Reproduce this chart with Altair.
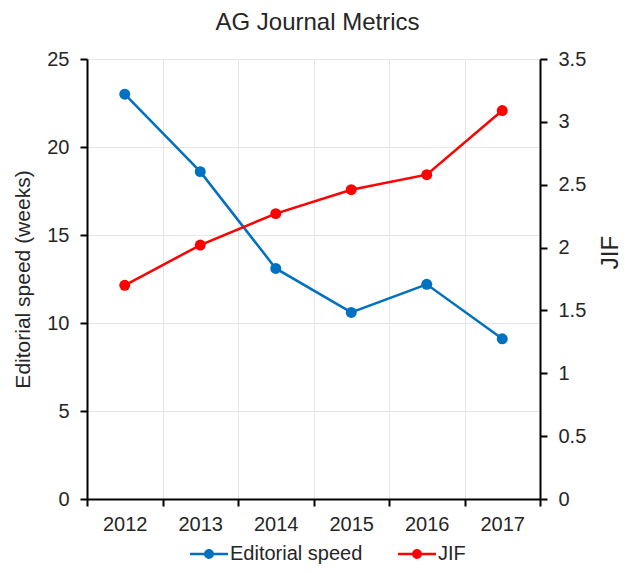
import altair as alt
import pandas as pd

years = ["2012", "2013", "2014", "2015", "2016", "2017"]
editorial_speed = [23.0, 18.6, 13.1, 10.6, 12.2, 9.1]
jif = [1.70, 2.02, 2.27, 2.46, 2.58, 3.09]
series_names = ["Editorial speed", "JIF"]
series_colors = ["#0070C0", "#FF0000"]

df = pd.DataFrame({
    "year": years * 2,
    "series": [series_names[0]] * len(years) + [series_names[1]] * len(years),
    "value": editorial_speed + jif,
})

FONT = "Liberation Sans"
TXT = "#262626"

sym_path = ("M-1,-0.07 L1,-0.07 L1,0.07 L-1,0.07 Z "
            "M-0.26,0 A0.26,0.26 0 1,1 0.26,0 A0.26,0.26 0 1,1 -0.26,0 Z")

x_enc = alt.X("year:N", sort=years,
              scale=alt.Scale(paddingInner=0, paddingOuter=0),
              axis=alt.Axis(title=None, tickBand="extent", labelAngle=0,
                            grid=True, gridColor="#e6e6e6", gridWidth=1,
                            domainColor="#000000", domainWidth=2,
                            tickColor="#000000", tickWidth=2, tickSize=7,
                            labelFontSize=20, labelFont=FONT, labelColor=TXT,
                            labelPadding=8))

color_enc = alt.Color("series:N",
                      scale=alt.Scale(domain=series_names, range=series_colors),
                      legend=alt.Legend(title=None, orient="none",
                                        direction="horizontal",
                                        legendX=103, legendY=476,
                                        symbolType=sym_path, symbolSize=1444,
                                        symbolStrokeWidth=0,
                                        labelFontSize=20, labelFont=FONT,
                                        labelColor=TXT, labelOffset=2,
                                        columnPadding=35))

base = alt.Chart(df)

y_left = alt.Y("value:Q",
               scale=alt.Scale(domain=[0, 25], nice=False),
               axis=alt.Axis(title="Editorial speed (weeks)", values=[0, 5, 10, 15, 20, 25],
                             grid=True, gridColor="#e6e6e6", gridWidth=1,
                             domainColor="#000000", domainWidth=2,
                             tickColor="#000000", tickWidth=2, tickSize=7,
                             labelFontSize=20, labelFont=FONT, labelColor=TXT,
                             labelPadding=11,
                             titleFontSize=21, titleFont=FONT, titleColor=TXT,
                             titleFontWeight="normal", titlePadding=13))

y_right = alt.Y("value:Q",
                scale=alt.Scale(domain=[0, 3.5], nice=False),
                axis=alt.Axis(title="JIF", orient="right",
                              values=[0, 0.5, 1, 1.5, 2, 2.5, 3, 3.5],
                              format="~g",
                              grid=False,
                              domainColor="#000000", domainWidth=2,
                              tickColor="#000000", tickWidth=2, tickSize=7,
                              labelFontSize=20, labelFont=FONT, labelColor=TXT,
                              labelPadding=11,
                              titleFontSize=24, titleFont=FONT, titleColor=TXT,
                              titleFontWeight="normal",
                              titleAngle=270, titleX=70, titleY=193,
                              titleBaseline="middle", titleAlign="center"))

speed = base.transform_filter(alt.datum.series == series_names[0])
jifb = base.transform_filter(alt.datum.series == series_names[1])

left = alt.layer(
    speed.mark_line(color=series_colors[0], strokeWidth=2.5).encode(x=x_enc, y=y_left),
    speed.mark_point(filled=True, size=120, opacity=1).encode(x=x_enc, y=y_left, color=color_enc),
)
right = alt.layer(
    jifb.mark_line(color=series_colors[1], strokeWidth=2.5).encode(x=x_enc, y=y_right),
    jifb.mark_point(filled=True, size=120, opacity=1).encode(x=x_enc, y=y_right, color=color_enc),
)

chart = alt.layer(left, right).resolve_scale(y="independent").properties(
    width=453, height=440,
    title=alt.TitleParams("AG Journal Metrics", fontSize=24, font=FONT,
                          fontWeight="normal", color=TXT, offset=14, anchor="middle",
                          dx=4),
    autosize=alt.AutoSizeParams(type="none"),
    padding={"left": 79, "top": 51, "right": 81, "bottom": 66},
).configure_view(stroke=None).configure(background="white")

chart.save("out.html", embed_options={"renderer": "svg", "actions": False})
